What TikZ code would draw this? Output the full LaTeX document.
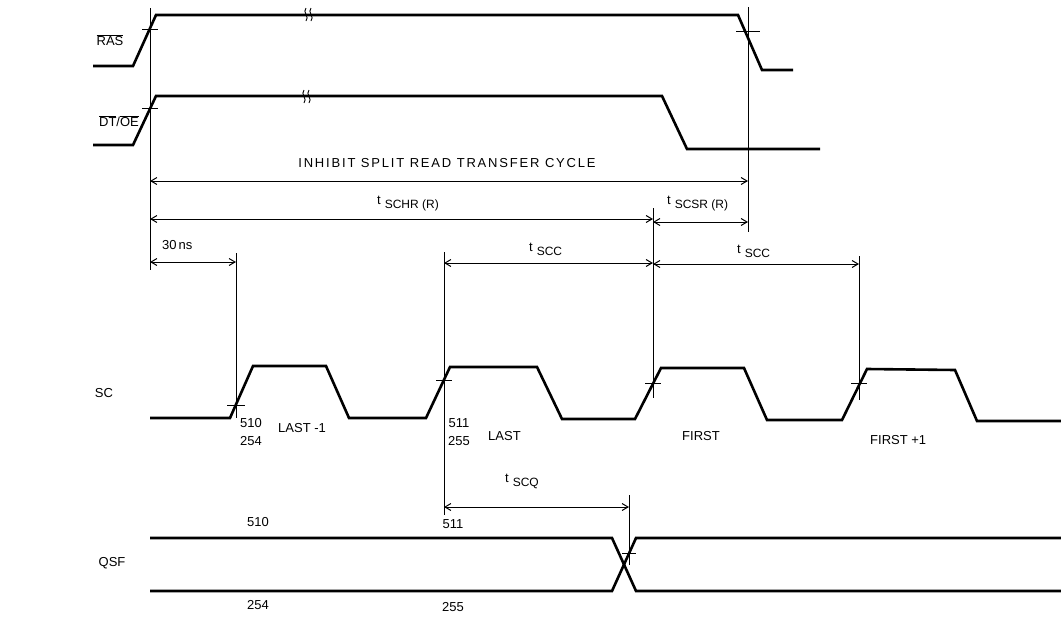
\documentclass[tikz,border=0pt]{standalone}
\usepackage{fontspec}
\setmainfont{Liberation Sans}
\usetikzlibrary{arrows.meta}
\newcommand\tsub[1]{t\hspace{4pt}\raisebox{-4pt}{\fontsize{12}{13}\selectfont #1}}
\begin{document}
\begin{tikzpicture}[x=1pt,y=-1pt,
  sig/.style={line width=2.6pt, line join=miter},
  vline/.style={line width=1pt},
  tick/.style={line width=1pt},
  dim/.style={line width=1pt, {Straight Barb[length=6pt,width=7pt]}-{Straight Barb[length=6pt,width=7pt]}},
  lbl/.style={font=\fontsize{13}{15}\selectfont, inner sep=0pt},
  brk/.style={line width=0.9pt}]
\useasboundingbox (0,0) rectangle (1061,640);
% vertical reference coordinates
\coordinate (a1) at (150,8);   \coordinate (a2) at (150,270);
\coordinate (b1) at (748,7);   \coordinate (b2) at (748,232);
\coordinate (c1) at (236,253); \coordinate (c2) at (236,418);
\coordinate (d1) at (444,252); \coordinate (d2) at (444,515);
\coordinate (e1) at (653,208); \coordinate (e2) at (653,398);
\coordinate (f1) at (859,256); \coordinate (f2) at (859,400);
\coordinate (g1) at (629,495); \coordinate (g2) at (629,565);
\foreach \p in {a,b,c,d,e,f,g} \draw[vline] (\p1) -- (\p2);
% signal names
\node[lbl] (ras) at (110,40) {$\overline{\hbox{RAS}}$};
\node[lbl] (dtoe) at (119,121) {$\overline{\hbox{DT}}$/$\overline{\hbox{OE}}$};
\node[lbl] (sc) at (104,393) {SC};
\node[lbl] (qsf) at (112,563) {QSF};
% RAS
\draw[sig] (93,66) -- (133,66) -- (156,15) -- (738,15) -- (762,70) -- (793,70);
% DT/OE
\draw[sig] (93,145) -- (133,145) -- (156,96) -- (662,96) -- (687,149) -- (820,149);
% break marks
\foreach \x/\y in {306/15,311/15,304/97,309/97}
  \draw[brk] (\x,\y-7) .. controls (\x-4,\y-3) and (\x+4,\y+2) .. (\x,\y+6);
% SC
\draw[sig] (150,418) -- (230,418) -- (253,366) -- (326,366) -- (349,418) -- (426,418)
  -- (450,367) -- (537,367) -- (562,419) -- (635,419) -- (661,368) -- (744,368)
  -- (767,420) -- (842,420) -- (867,369) -- (955,370) -- (977,421) -- (1061,421);
% QSF
\draw[sig] (150,538) -- (612,538) -- (636,591) -- (1061,591);
\draw[sig] (150,591) -- (612,591) -- (636,538) -- (1061,538);
% ticks
\foreach \x/\y/\w in {150/29/8,150/108/8,748/31/12,236/405/9,444/380/8,653/383/8,859/383/8,629/553/7}
  \draw[tick] (\x-\w,\y) -- (\x+\w,\y);
% dimension arrows
\draw[dim] (150,181) -- (748,181);
\draw[dim] (150,219) -- (653,219);
\draw[dim] (653,222) -- (748,222);
\draw[dim] (150,262) -- (236,262);
\draw[dim] (444,263) -- (653,263);
\draw[dim] (653,264) -- (859,264);
\draw[dim] (444,507) -- (629,507);
% dimension labels
\node[lbl] (inh) at (447,163) {\addfontfeature{LetterSpace=14}INHIBIT SPLIT READ TRANSFER CYCLE};
\node[lbl, anchor=west] (tschr) at (377,204) {\tsub{SCHR (R)}};
\node[lbl, anchor=west] (tscsr) at (667,204) {\tsub{SCSR (R)}};
\node[lbl, anchor=west] (ns) at (162,245) {30\hspace{2pt}ns};
\node[lbl, anchor=west] (tscc1) at (529,249) {\tsub{SCC}};
\node[lbl, anchor=west] (tscc2) at (737,251) {\tsub{SCC}};
\node[lbl, anchor=west] (tscq) at (505,481) {\tsub{SCQ}};
% SC data labels
\node[lbl] (n510) at (251,423) {510};
\node[lbl] (n254) at (251,441) {254};
\node[lbl, anchor=west] (l1) at (278,428) {LAST -1};
\node[lbl] (n511) at (459,423) {511};
\node[lbl] (n255) at (459,441) {255};
\node[lbl, anchor=west] (l2) at (488,436) {LAST};
\node[lbl, anchor=west] (l3) at (682,436) {FIRST};
\node[lbl, anchor=west] (l4) at (870,440) {FIRST +1};
% QSF data labels
\node[lbl] (q510) at (258,522) {510};
\node[lbl] (q511) at (453,524) {511};
\node[lbl] (q254) at (258,605) {254};
\node[lbl] (q255) at (453,607) {255};
\end{tikzpicture}
\end{document}
